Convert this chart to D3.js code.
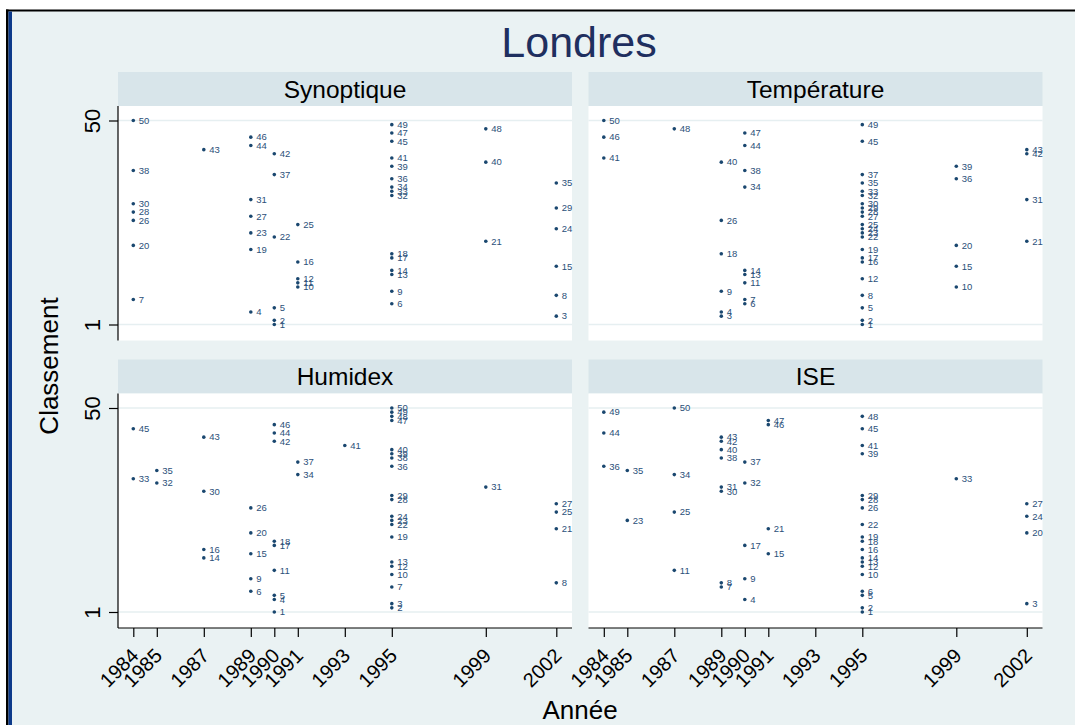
<!DOCTYPE html>
<html>
<head>
<meta charset="utf-8">
<script src="https://cdn.jsdelivr.net/npm/d3@7"></script>
<style>
  body { margin: 0; background: #ffffff; }
  text { font-family: "Liberation Sans", Arial, sans-serif; }
</style>
</head>
<body>
<script>
// tick labels on the year axis
var yearTicks = [1984, 1985, 1987, 1989, 1990, 1991, 1993, 1995, 1999, 2002];
var rankTicks = [1, 50];

// ranks per year (label = rank)
var synoptique = [
  [1984, [50, 38, 30, 28, 26, 20, 7]],
  [1987, [43]],
  [1989, [46, 44, 31, 27, 23, 19, 4]],
  [1990, [42, 37, 22, 5, 2, 1]],
  [1991, [25, 16, 12, 11, 10]],
  [1995, [49, 47, 45, 41, 39, 36, 34, 33, 32, 18, 17, 14, 13, 9, 6]],
  [1999, [48, 40, 21]],
  [2002, [35, 29, 24, 15, 8, 3]]
];
var temperature = [
  [1984, [50, 46, 41]],
  [1987, [48]],
  [1989, [40, 26, 18, 9, 4, 3]],
  [1990, [47, 44, 38, 34, 14, 13, 11, 7, 6]],
  [1995, [49, 45, 37, 35, 33, 32, 30, 29, 28, 27, 25, 24, 23, 22, 19, 17, 16, 12, 8, 5, 2, 1]],
  [1999, [39, 36, 20, 15, 10]],
  [2002, [43, 42, 31, 21]]
];
var humidex = [
  [1984, [45, 33]],
  [1985, [35, 32]],
  [1987, [43, 30, 16, 14]],
  [1989, [26, 20, 15, 9, 6]],
  [1990, [46, 44, 42, 18, 17, 11, 5, 4, 1]],
  [1991, [37, 34]],
  [1993, [41]],
  [1995, [50, 49, 48, 47, 40, 39, 38, 36, 29, 28, 24, 23, 22, 19, 13, 12, 10, 7, 3, 2]],
  [1999, [31]],
  [2002, [27, 25, 21, 8]]
];
var ise = [
  [1984, [49, 44, 36]],
  [1985, [35, 23]],
  [1987, [50, 34, 25, 11]],
  [1989, [43, 42, 40, 38, 31, 30, 8, 7]],
  [1990, [37, 32, 17, 9, 4]],
  [1991, [47, 46, 21, 15]],
  [1995, [48, 45, 41, 39, 29, 28, 26, 22, 19, 18, 16, 14, 13, 12, 10, 6, 5, 2, 1]],
  [1999, [33]],
  [2002, [27, 24, 20, 3]]
];
var panelNames = ["Synoptique", "Température", "Humidex", "ISE"];
var panelData = [synoptique, temperature, humidex, ise];

var W = 1075, H = 725;
var navy = "#1a476f";

// panel geometry
var pw = 454, ph = 234.5, headH = 34;
var colX = [118, 588.5];
var rowY = [106, 393.5];

var x = d3.scaleLinear().domain([1984, 2002]).range([15.3, pw - 15.7]);
var y = d3.scaleLinear().domain([1, 50]).range([ph - 16, 14.5]);

var svg = d3.select("body")
  .append("svg")
    .attr("width", W)
    .attr("height", H);

// graph region + frame
svg.append("rect").attr("x", 0).attr("y", 0).attr("width", W).attr("height", H).attr("fill", "#ffffff");
svg.append("rect").attr("x", 7).attr("y", 11).attr("width", W - 7).attr("height", H - 11).attr("fill", "#eaf2f3");
svg.append("rect").attr("x", 6).attr("y", 9.5).attr("width", W - 6).attr("height", 2).attr("fill", "#000000");
svg.append("rect").attr("x", 6).attr("y", 9.5).attr("width", 2.5).attr("height", H).attr("fill", "#000000");
svg.append("rect").attr("x", 8.5).attr("y", 11.5).attr("width", 3.5).attr("height", H).attr("fill", "#0d3a8a");

// title
svg.append("text")
  .attr("x", 579)
  .attr("y", 57)
  .attr("text-anchor", "middle")
  .style("font-size", "43px")
  .style("fill", "#1f2f5f")
  .text("Londres");

panelNames.forEach(function(name, i) {
  var col = i % 2, row = Math.floor(i / 2);
  var g = svg.append("g")
    .attr("transform", "translate(" + colX[col] + "," + rowY[row] + ")");

  // subtitle strip
  g.append("rect")
    .attr("x", 0).attr("y", -headH)
    .attr("width", pw).attr("height", headH)
    .attr("fill", "#d8e5ea");
  g.append("text")
    .attr("x", pw / 2)
    .attr("y", -headH / 2)
    .attr("dy", "0.35em")
    .attr("text-anchor", "middle")
    .style("font-size", "24.5px")
    .style("fill", "#000000")
    .text(name);

  // plot region
  g.append("rect")
    .attr("width", pw).attr("height", ph)
    .attr("fill", "#ffffff");

  // grid lines
  g.selectAll(".grid")
    .data(rankTicks)
    .enter()
    .append("line")
    .attr("x1", 0).attr("x2", pw)
    .attr("y1", function(d) { return y(d); })
    .attr("y2", function(d) { return y(d); })
    .attr("stroke", "#e6eff1")
    .attr("stroke-width", 1.5);

  // flatten year groups into points
  var pts = [];
  panelData[i].forEach(function(d) {
    d[1].forEach(function(r) { pts.push({year: d[0], rank: r}); });
  });

  g.selectAll(".pt")
    .data(pts)
    .enter()
    .append("circle")
    .attr("cx", function(d) { return x(d.year); })
    .attr("cy", function(d) { return y(d.rank); })
    .attr("r", 1.8)
    .attr("fill", navy);

  g.selectAll(".lab")
    .data(pts)
    .enter()
    .append("text")
    .attr("x", function(d) { return x(d.year) + 5.5; })
    .attr("y", function(d) { return y(d.rank); })
    .attr("dy", "0.35em")
    .style("font-size", "9.5px")
    .style("fill", "#2b5079")
    .text(function(d) { return d.rank; });

  // y axis on left column
  if (col === 0) {
    var ya = g.append("g")
      .call(d3.axisLeft(y).tickValues(rankTicks).tickSize(9).tickFormat(d3.format("d")));
    ya.select(".domain").remove();
    ya.selectAll(".tick line").attr("stroke", "#000").attr("stroke-width", 1.2);
    ya.selectAll(".tick text")
      .attr("x", 0).attr("dy", 0)
      .attr("transform", "translate(-18,0) rotate(-90)")
      .attr("text-anchor", "middle")
      .style("font-size", "22px")
      .style("fill", "#000");
    g.append("line")
      .attr("x1", 0).attr("x2", 0)
      .attr("y1", 0).attr("y2", ph)
      .attr("stroke", "#000").attr("stroke-width", 1.2);
  }

  // x axis on bottom row
  if (row === 1) {
    var xa = g.append("g")
      .attr("transform", "translate(0," + ph + ")")
      .call(d3.axisBottom(x).tickValues(yearTicks).tickSize(9).tickFormat(d3.format("d")));
    xa.select(".domain").remove();
    xa.selectAll(".tick line").attr("stroke", "#000").attr("stroke-width", 1.2);
    xa.selectAll(".tick text")
      .attr("x", 0).attr("y", 0).attr("dy", "0.35em")
      .attr("transform", "translate(1,24) rotate(-45)")
      .attr("text-anchor", "end")
      .style("font-size", "20px")
      .style("fill", "#000");
    g.append("line")
      .attr("x1", 0).attr("x2", pw)
      .attr("y1", ph).attr("y2", ph)
      .attr("stroke", "#000").attr("stroke-width", 1.2);
  }
});

// axis titles
svg.append("text")
  .attr("transform", "translate(58," + 366 + ") rotate(-90)")
  .attr("text-anchor", "middle")
  .style("font-size", "26px")
  .style("fill", "#000")
  .text("Classement");

svg.append("text")
  .attr("x", 580)
  .attr("y", 719)
  .attr("text-anchor", "middle")
  .style("font-size", "26px")
  .style("fill", "#000")
  .text("Année");
</script>
</body>
</html>
